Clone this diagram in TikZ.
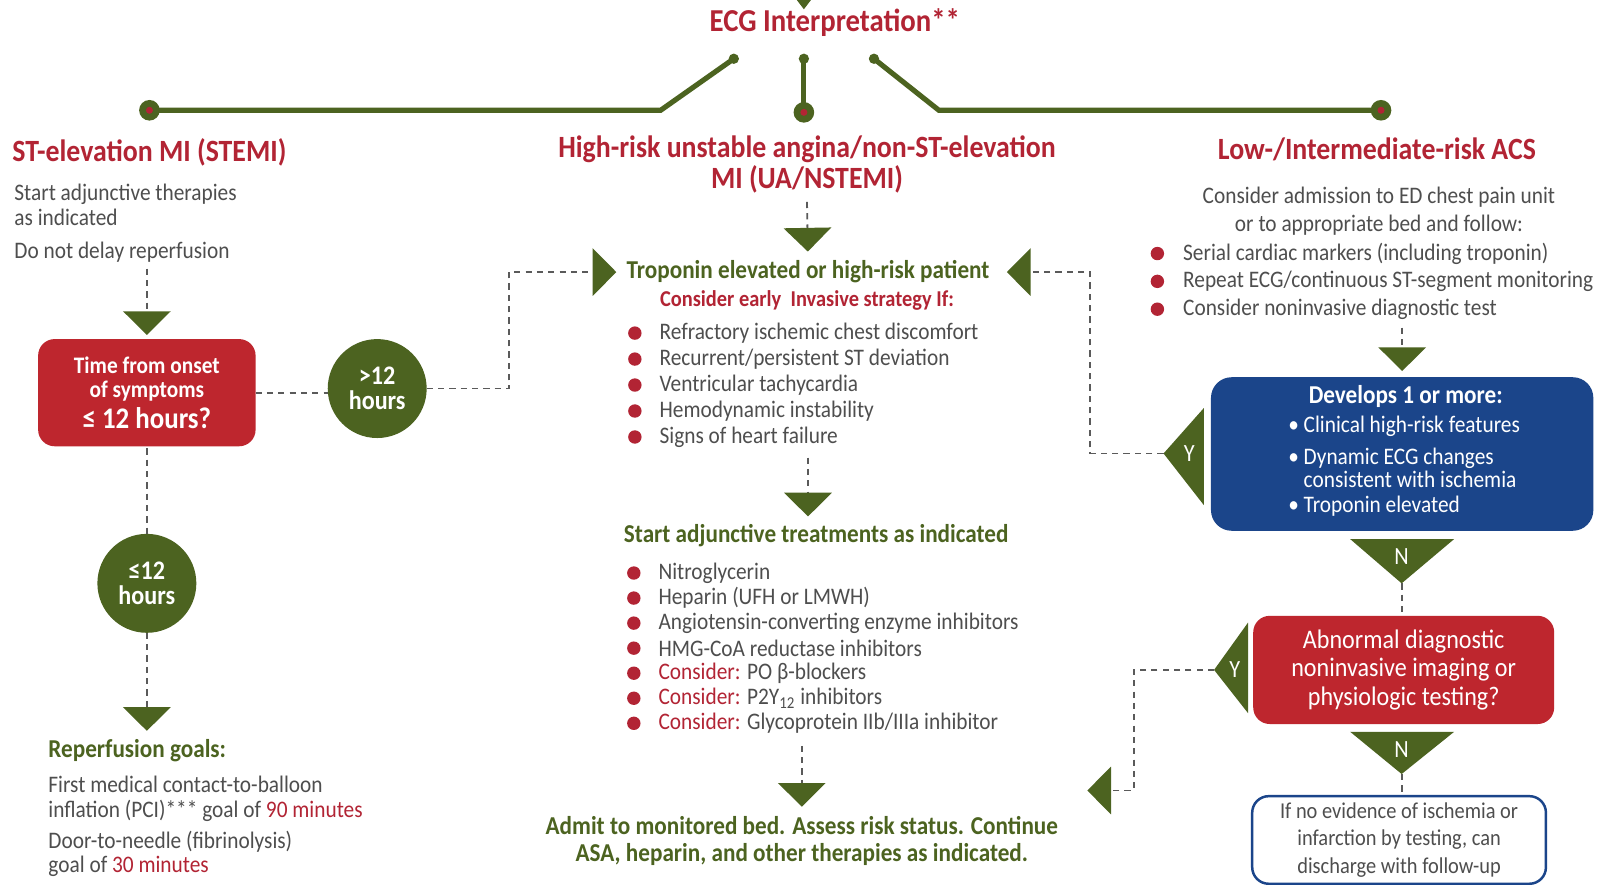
\documentclass[tikz,border=0pt]{standalone}
\usepackage{fontspec}
\setmainfont{Carlito}[FakeStretch=0.9]
\usetikzlibrary{arrows.meta,positioning}

\definecolor{ecggreen}{RGB}{76,99,32}
\definecolor{ecgred}{RGB}{178,36,52}
\definecolor{boxred}{RGB}{190,38,46}
\definecolor{boxblue}{RGB}{27,69,138}
\definecolor{txtgray}{RGB}{78,78,78}
\definecolor{dashgray}{RGB}{90,90,90}

\begin{document}
\begin{tikzpicture}[x=0.5pt, y=-0.5pt,
    every node/.style={inner sep=0pt, outer sep=0pt},
    head/.style={text=ecgred, align=center, font=\fontsize{15}{15}\selectfont\bfseries},
    sub/.style={text=ecggreen, align=center, font=\fontsize{12.5}{13.5}\selectfont\bfseries},
    body/.style={text=txtgray, align=left, font=\fontsize{11.5}{12}\selectfont},
    redbox/.style={fill=boxred, rounded corners=8pt, text=white, align=center},
    hours/.style={circle, fill=ecggreen, minimum size=48pt, text=white, align=center,
      font=\fontsize{13}{12}\selectfont\bfseries},
    trunk/.style={draw=ecggreen, line width=2.5pt},
    knob/.style={circle, fill=ecggreen, minimum size=5pt},
    bigknob/.style={circle, fill=ecggreen, minimum size=10pt},
    bullet/.style={circle, fill=ecgred, minimum size=6.5pt},
    flow/.style={draw=dashgray, line width=0.9pt, dash pattern=on 3pt off 2.5pt},
    tip/.style={-{Triangle[width=23pt, length=11.5pt, color=ecggreen]}},
    yn/.style={fill=ecggreen},
    ynlab/.style={text=white, font=\fontsize{12}{12}\selectfont}
  ]
  \path[fill=white, use as bounding box] (0,0) rectangle (1568,858);

  \coordinate (k1) at (712,57);
  \coordinate (k2) at (780,57);
  \coordinate (k3) at (848,57);
  \coordinate (s1) at (145,107);
  \coordinate (s2) at (780,109);
  \coordinate (s3) at (1340,107);
  \fill[ecggreen] (764,-12) -- (796,-12) -- (780,9) -- cycle;
  \node[head, font=\fontsize{15.5}{16}\selectfont\bfseries] (ecg) at (810,22) {ECG Interpretation**};
  \draw[trunk] (k1) -- (641,107) -- (s1);
  \draw[trunk] (k2) -- (s2);
  \draw[trunk] (k3) -- (911,107) -- (s3);
  \foreach \k in {k1,k2,k3} \node[knob] (\k dot) at (\k) {};
  \foreach \s in {s1,s2,s3} {
    \node[bigknob] (\s dot) at (\s) {};
    \fill[ecgred] (\s) circle (1.7pt);
  }

  \node[head, anchor=west] (stemi) at (12,148) {ST-elevation MI (STEMI)};
  \node[head] (nstemi) at (783,160) {High-risk unstable angina/non-ST-elevation\\MI (UA/NSTEMI)};
  \node[head] (lowrisk) at (1336,145) {Low-/Intermediate-risk ACS};

  \node[body, anchor=north west] (stemitxt) at (14,179) {Start adjunctive therapies\\as indicated\\[4pt]Do not delay reperfusion};
  \node[redbox, minimum width=105.5pt, minimum height=52pt, font=\fontsize{11.5}{12}\selectfont\bfseries] (onset) at (142.5,381)
    {Time from onset\\of symptoms\\[3pt]{\fontsize{14.5}{15}\selectfont ≤ 12 hours?}};
  \node[hours] (gt) at (366,377) {>12\\hours};
  \node[hours] (le) at (142.5,566) {≤12\\hours};
  \node[sub, anchor=west] (goals) at (47,728) {Reperfusion goals:};
  \node[body, anchor=north west] (goalstxt) at (47,753) {First medical contact-to-balloon\\inflation (PCI)*** goal of {\color{ecgred}90 minutes}\\[3pt]Door-to-needle (fibrinolysis)\\goal of {\color{ecgred}30 minutes}};

  \draw[flow, tip, shorten >=2pt] ([yshift=-3pt]onset.north |- stemitxt.south) -- (onset.north);
  \draw[flow] (onset.east) -- (onset.east -| gt.west);
  \draw[flow] ([yshift=-1pt]onset.south) -- (le.north);
  \draw[flow, tip, shorten >=4pt] (le.south) -- (goals.north -| le);

  \node[sub] (trop) at (784,264) {Troponin elevated or high-risk patient};
  \node[text=ecgred, font=\fontsize{11}{11}\selectfont\bfseries] (strat) at (783,292) {Consider early\ \ Invasive strategy If:};
  \foreach \txt [count=\i] in {Refractory ischemic chest discomfort, Recurrent/persistent ST deviation,
      Ventricular tachycardia, Hemodynamic instability, Signs of heart failure} {
    \node[bullet] (invdot\i) at (616, {298+25.2*\i}) {};
    \node[body, anchor=west] (inv\i) at (640, {298+25.2*\i}) {\txt};
  }
  \node[sub] (treat) at (792,520) {Start adjunctive treatments as indicated};
  \foreach \txt [count=\i] in {Nitroglycerin, Heparin (UFH or LMWH),
      Angiotensin-converting enzyme inhibitors, HMG-CoA reductase inhibitors,
      {{\color{ecgred}Consider:} PO β-blockers}, {{\color{ecgred}Consider:} P2Y\textsubscript{12} inhibitors},
      {{\color{ecgred}Consider:} Glycoprotein IIb/IIIa inhibitor}} {
    \node[bullet] (trdot\i) at (615, {531.7+24.3*\i}) {};
    \node[body, anchor=west] (tr\i) at (639, {531.7+24.3*\i}) {\txt};
  }
  \node[sub] (admit) at (778,816) {Admit to monitored bed. Assess risk status. Continue\\ASA, heparin, and other therapies as indicated.};

  \draw[flow, tip, shorten >=4.5pt] ([yshift=-4pt]nstemi.south) -- (trop.north);
  \draw[flow, tip, shorten >=4pt] ([yshift=-5pt]inv5.south -| trop) -- (treat.north -| trop);
  \draw[flow, tip, shorten >=4.5pt] ([yshift=-6pt]tr7.south -| admit) -- (admit.north);
  \draw[flow, tip, shorten >=5pt] (gt.east) -- ++(80,0) |- (trop.west);

  \node[body, align=center, font=\fontsize{11.5}{13.5}\selectfont] (admtxt) at (1338,205)
    {Consider admission to ED chest pain unit\\or to appropriate bed and follow:};
  \foreach \txt [count=\i] in {Serial cardiac markers (including troponin),
      Repeat ECG/continuous ST-segment monitoring, Consider noninvasive diagnostic test} {
    \node[bullet] (lrdot\i) at (1123, {219+27*\i}) {};
    \node[body, anchor=west] (lr\i) at (1148, {219+27*\i}) {\txt};
  }

  \node[fill=boxblue, rounded corners=10pt, minimum width=185.5pt, minimum height=74.5pt] (dev) at (1360.5,440.5) {};
  \node[text=white, font=\fontsize{12.5}{13}\selectfont\bfseries] (devhead) at (1364,385) {Develops 1 or more:};
  \node[text=white, anchor=west, font=\fontsize{11.5}{12}\selectfont] (dev1) at (1250,414) {• Clinical high-risk features};
  \node[text=white, anchor=west, align=left, font=\fontsize{11.5}{9}\selectfont] (dev2) at (1250,454) {• Dynamic ECG changes\\\phantom{• }consistent with ischemia};
  \node[text=white, anchor=west, font=\fontsize{11.5}{12}\selectfont] (dev3) at (1250,491) {• Troponin elevated};
  \draw[flow, tip, shorten >=3pt] ([yshift=-4pt]lr3.south -| dev) -- (dev.north);

  \coordinate (yone) at (1129,440);
  \fill[yn] (1168,396) -- (1168,490) -- (yone) -- cycle;
  \node[ynlab] (ylab1) at (1154,440) {Y};
  \draw[flow, tip, shorten >=8.5pt] (yone) -- (1058,440) |- (trop.east);

  \coordinate (none) at (1360,566);
  \fill[yn] (1310,523) -- (1411,523) -- (none) -- cycle;
  \node[ynlab] (nlab1) at (1360,540) {N};

  \node[redbox, minimum width=146pt, minimum height=52.5pt, font=\fontsize{13}{13.75}\selectfont] (abn) at (1362,650)
    {Abnormal diagnostic\\noninvasive imaging or\\physiologic testing?};
  \draw[flow] (none) -- (abn.north -| none);

  \coordinate (ytwo) at (1178,650);
  \fill[yn] (1211,604) -- (1211,692) -- (ytwo) -- cycle;
  \node[ynlab] (ylab2) at (1198,650) {Y};
  \coordinate (admitin) at (1055,767);
  \draw[flow, tip] (ytwo) -- (1100,650) |- (admitin);

  \coordinate (ntwo) at (1360,751);
  \fill[yn] (1310,710) -- (1411,710) -- (ntwo) -- cycle;
  \node[ynlab] (nlab2) at (1360,727) {N};

  \node[draw=boxblue, line width=1.2pt, rounded corners=8pt, minimum width=142.5pt, minimum height=42.5pt,
    text=txtgray, align=center, font=\fontsize{11}{13.25}\selectfont] (disch) at (1357.5,815)
    {If no evidence of ischemia or\\infarction by testing, can\\discharge with follow-up};
  \draw[flow] (ntwo) -- (disch.north -| ntwo);
\end{tikzpicture}
\end{document}
